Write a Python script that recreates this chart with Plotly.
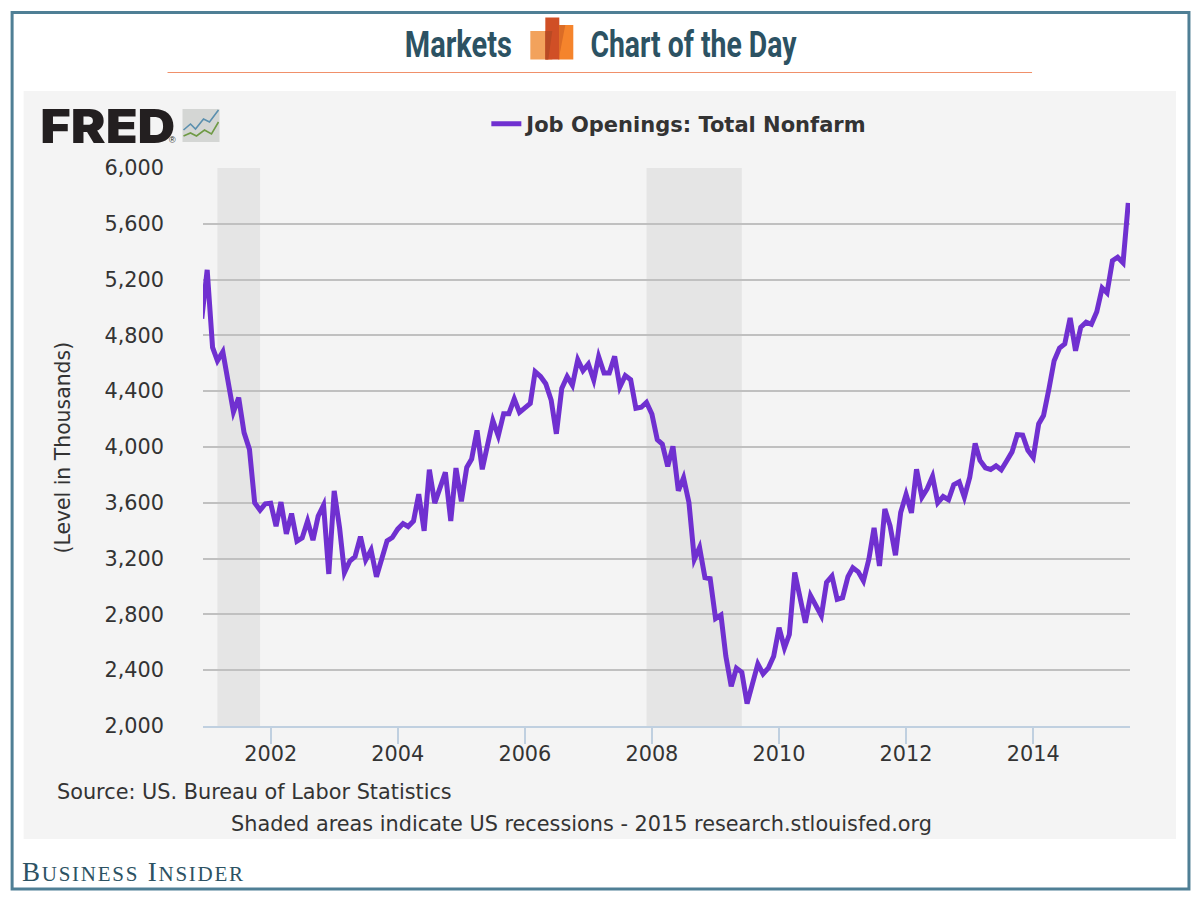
import pandas as pd
import plotly.graph_objects as go

# Job openings, thousands, monthly from Dec 2000
v2000 = [4920]
v2001 = [5270, 4714, 4618, 4682, 4450, 4251, 4354, 4103, 3983, 3600, 3547, 3593]
v2002 = [3597, 3432, 3605, 3377, 3523, 3325, 3348, 3470, 3332, 3504, 3583, 3090]
v2003 = [3686, 3420, 3100, 3183, 3214, 3358, 3190, 3262, 3070, 3207, 3327, 3351]
v2004 = [3411, 3451, 3430, 3470, 3662, 3399, 3837, 3598, 3710, 3818, 3470, 3849]
v2005 = [3610, 3854, 3914, 4119, 3840, 4033, 4189, 4080, 4239, 4239, 4345, 4248]
v2006 = [4278, 4313, 4540, 4505, 4454, 4337, 4095, 4419, 4505, 4442, 4625, 4547]
v2007 = [4594, 4480, 4648, 4531, 4531, 4650, 4430, 4512, 4482, 4278, 4285, 4320]
v2008 = [4237, 4052, 4021, 3861, 4005, 3686, 3780, 3602, 3195, 3280, 3063, 3056]
v2009 = [2770, 2795, 2500, 2285, 2415, 2385, 2160, 2309, 2445, 2374, 2417, 2500]
v2010 = [2705, 2560, 2656, 3100, 2932, 2740, 2935, 2870, 2790, 3030, 3075, 2908]
v2011 = [2920, 3070, 3135, 3105, 3040, 3195, 3420, 3147, 3555, 3435, 3224, 3530]
v2012 = [3660, 3528, 3840, 3640, 3700, 3790, 3600, 3645, 3622, 3730, 3750, 3640]
v2013 = [3784, 4025, 3904, 3851, 3839, 3865, 3837, 3900, 3965, 4088, 4085, 3976]
v2014 = [3925, 4165, 4225, 4416, 4619, 4710, 4739, 4925, 4690, 4858, 4895, 4880]
v2015 = [4970, 5140, 5105, 5335, 5360, 5320, 5750]
openings = (v2000 + v2001 + v2002 + v2003 + v2004 + v2005 + v2006 + v2007
            + v2008 + v2009 + v2010 + v2011 + v2012 + v2013 + v2014 + v2015)
dates = pd.date_range("2000-12-01", periods=len(openings), freq="MS")

recession_starts = ["2001-03-01", "2007-12-01"]
recession_ends = ["2001-11-01", "2009-06-01"]
y_ticks = [2000, 2400, 2800, 3200, 3600, 4000, 4400, 4800, 5200, 5600, 6000]
x_ticks = [f"{y}-01-01" for y in range(2002, 2016, 2)]
x_labels = [str(y) for y in range(2002, 2016, 2)]

W, H = 1200, 900
L, R, T, B = 202.5, 1130, 168, 726
def px(x): return (x - L) / (R - L)
def py(y): return (B - y) / (B - T)

INK = "#333333"
TEAL = "#2c5263"
TXT = 20.8

def rect(x0, y0, x1, y1, fill, line=None, lw=0, layer="below"):
    return dict(type="rect", xref="paper", yref="paper", x0=px(x0), x1=px(x1),
                y0=py(y1), y1=py(y0), fillcolor=fill, layer=layer,
                line=dict(color=line or fill, width=lw))

def poly(points, color, w=0, fill=None, layer="above"):
    d = "M" + " L".join(f"{px(a):.5f},{py(b):.5f}" for a, b in points)
    if fill:
        d += " Z"
    s = dict(type="path", xref="paper", yref="paper", path=d, layer=layer,
             line=dict(color=color, width=w))
    if fill:
        s["fillcolor"] = fill
    return s

def note(x, y, text, size, color=INK, family="DejaVu Sans", anchor="left", weight=None, **kw):
    f = dict(size=size, color=color, family=family)
    if weight:
        f["weight"] = weight
    return dict(xref="paper", yref="paper", x=px(x), y=py(y), text=text, showarrow=False,
                xanchor=anchor, yanchor="middle", font=f, **kw)

shapes = [
    rect(11.5, 12.5, 1189, 889, "white", "#4f7f95", 3),
    rect(23, 91, 1176, 839, "#f4f4f4"),
    dict(type="line", xref="paper", yref="paper", x0=px(167), x1=px(1032), y0=py(72.5), y1=py(72.5),
         line=dict(color="#f0906a", width=1), layer="below"),
    rect(530, 31, 552, 59.5, "#f2a25c"),
    rect(558, 25, 573, 59.5, "#f5842c"),
    rect(545, 17.5, 559, 59.5, "#d04f26"),
    poly([(545, 31), (552, 31), (548, 59.5), (545, 59.5)], "#b84a24", fill="#b84a24"),
    poly([(559, 25), (565, 25), (559, 56)], "#db6c26", fill="#db6c26"),
    dict(type="rect", xref="paper", yref="paper", x0=px(182), x1=px(219), y0=py(142), y1=py(109),
         fillcolor="#d4d6d4", line=dict(color="#d4d6d4", width=0), layer="above"),
    poly([(183, 130), (190, 124), (195, 129), (203, 119), (209, 122), (218, 110)], "#5a8fae", 1.6),
    poly([(183, 136), (190, 133), (196, 136), (204, 130), (211, 134), (218, 122)], "#6f9a45", 1.6),
]
for s, e in zip(recession_starts, recession_ends):
    shapes.append(dict(type="rect", xref="x", yref="y", x0=s, x1=e, y0=2000, y1=6000,
                       fillcolor="#e5e5e5", line=dict(width=0), layer="below"))

annotations = [
    note(458.5, 45, "Markets", 37, TEAL, "Roboto", anchor="center", weight=700),
    note(693, 45, "Chart of the Day", 37, TEAL, "Roboto", anchor="center", weight=700),
    note(107.5, 125, "FRED", 47, "#231f20", "Inter", anchor="center", weight=900),
    note(172, 140, "®", 9, "#231f20", "Liberation Sans", anchor="center"),
    note(54, 792, "Source: US. Bureau of Labor Statistics", TXT),
    note(229, 824, "Shaded areas indicate US recessions - 2015 research.stlouisfed.org", TXT),
    note(132.5, 872, 'B<span style="font-size:21px">USINESS</span> I<span style="font-size:21px">NSIDER</span>',
         27, TEAL, "Liberation Serif", anchor="center"),
    note(62, 448, "(Level in Thousands)", 20.4, "#333333", anchor="center", textangle=-90),
]

fig = go.Figure(go.Scatter(
    x=dates, y=openings, mode="lines", name="Job Openings: Total Nonfarm",
    line=dict(color="#7030d0", width=5, shape="linear"), showlegend=True,
    cliponaxis=True))

fig.update_layout(
    width=W, height=H, autosize=False,
    margin=dict(l=L, r=W - R, t=T, b=H - B, pad=0),
    paper_bgcolor="white", plot_bgcolor="rgba(0,0,0,0)",
    shapes=shapes, annotations=annotations,
    font=dict(family="DejaVu Sans", color=INK, size=TXT),
    legend=dict(x=px(486), y=py(124), xanchor="left", yanchor="middle", orientation="h",
                bgcolor="rgba(0,0,0,0)", itemwidth=30,
                font=dict(family="DejaVu Sans", size=21, color=INK, weight="bold")),
    xaxis=dict(range=["2000-12-08", "2015-07-11"], tickvals=x_ticks, ticktext=x_labels,
               ticks="outside", ticklen=16, tickwidth=1.5, tickcolor="#c0d0e0",
               ticklabelstandoff=-8,
               showline=True, linecolor="#c0d0e0", linewidth=2, showgrid=False, zeroline=False,
               tickfont=dict(size=TXT, color=INK)),
    yaxis=dict(range=[2000, 6000], tickvals=y_ticks, tickformat=",d",
               ticks="", ticklabelstandoff=38, showgrid=True, gridcolor="#c0c0c0", gridwidth=2,
               showline=False, zeroline=False, tickfont=dict(size=TXT, color=INK)),
)

post = """
document.body.style.margin='0';document.body.style.overflow='hidden';
document.querySelectorAll('.annotation-text').forEach(function(t){
  var s=t.textContent;
  function fit(n){t.setAttribute('textLength',n);t.setAttribute('lengthAdjust','spacingAndGlyphs');}
  if(s==='Markets'){fit('107');}
  if(s==='Chart of the Day'){fit('206');}
  if(s==='FRED'){fit('135');}
  if(s.indexOf('USINESS')>=0){t.style.letterSpacing='1.75px';}
});
document.querySelectorAll('.scatterlayer .js-line').forEach(function(l){
  l.style.strokeLinejoin='miter';l.style.strokeMiterlimit='4';
});
"""
fig.write_html("out.html", config=dict(displayModeBar=False), post_script=post)
